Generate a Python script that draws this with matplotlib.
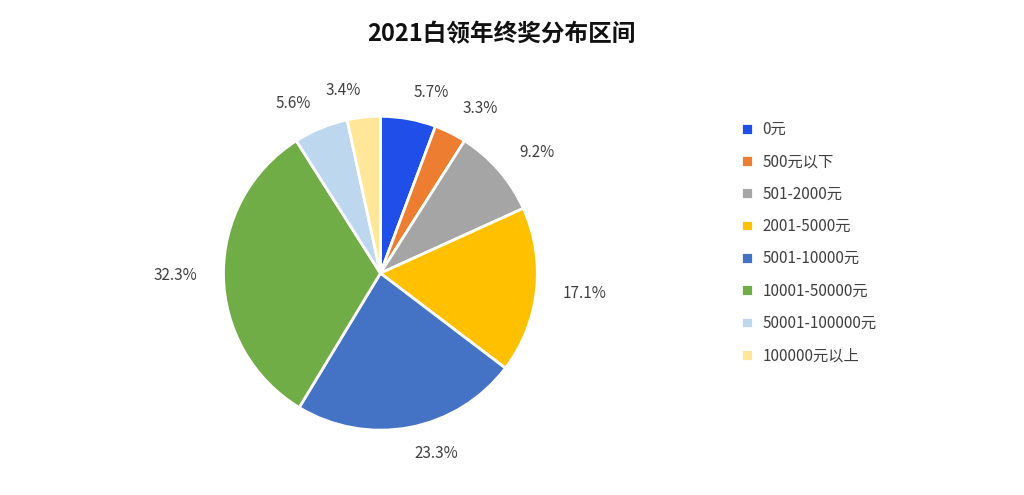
import matplotlib
matplotlib.use("Agg")
import matplotlib.pyplot as plt

plt.rcParams['font.family'] = ['Noto Sans CJK SC', 'DejaVu Sans']

# 数据
categories = ['0元', '500元以下', '501-2000元', '2001-5000元', '5001-10000元',
              '10001-50000元', '50001-100000元', '100000元以上']
shares = [5.7, 3.3, 9.2, 17.1, 23.3, 32.3, 5.6, 3.4]
colors = ['#1F4FE8', '#ED7D31', '#A5A5A5', '#FFC000', '#4472C4',
          '#70AD47', '#BDD7EE', '#FFE699']

fig = plt.figure(figsize=(10.24, 4.95), dpi=100)
ax = fig.add_axes([0.218, 0.131, 0.307, 0.634])

wedges, texts = ax.pie(shares, colors=colors, startangle=90, counterclock=False,
                       labels=[f"{v}%" for v in shares], labeldistance=1.17,
                       wedgeprops=dict(edgecolor='white', linewidth=2),
                       textprops=dict(fontsize=11, color='#404040'))
ax.set_xlim(-1, 1)
ax.set_ylim(-1, 1)
ax.set_aspect('equal')

fig.text(0.49, 0.93, "2021白领年终奖分布区间", ha='center', va='center',
         fontsize=17, fontweight='bold', color='#111111')

fig.legend(wedges, categories, loc='center left', bbox_to_anchor=(0.71, 0.51),
           frameon=False, fontsize=11, handlelength=0.8, handleheight=0.8,
           labelspacing=1.0, handletextpad=0.6, labelcolor='#404040')

fig.savefig("out.png", dpi=100)
